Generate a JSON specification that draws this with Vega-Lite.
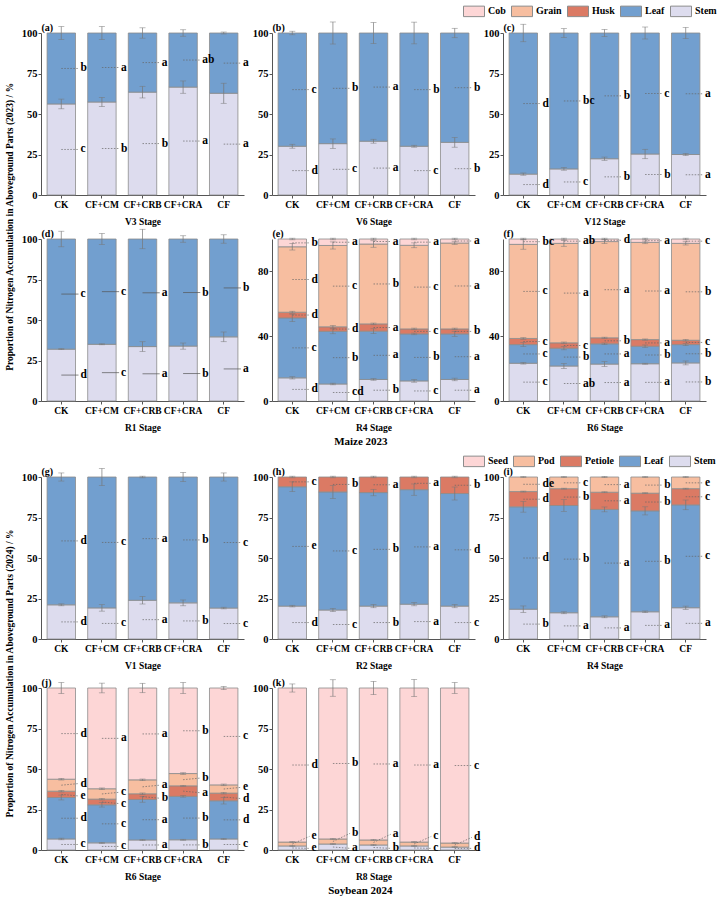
{
"$schema": "https://vega.github.io/schema/vega-lite/v6.json",
"background": "white",
"padding": {"left": 4, "top": 0, "right": 0, "bottom": 0},
"config": {
  "font": "Liberation Serif",
  "view": {"stroke": null},
  "axis": {"labelFont": "Liberation Serif", "labelFontWeight": "bold", "labelColor": "#000", "titleFont": "Liberation Serif", "titleFontWeight": "bold", "titleFontSize": 9.5, "titleColor": "#000", "domainColor": "#555", "tickColor": "#555", "tickSize": 3, "grid": false, "labelPadding": 1},
  "axisX": {"labelAngle": 0, "titlePadding": 8, "labelFontSize": 9.5},
  "axisY": {"labelFontSize": 10.5, "titleFontSize": 10, "titleAngle": 0, "titleAlign": "left", "titleBaseline": "alphabetic", "titleX": 0, "titleY": -3},
  "title": {"font": "Liberation Serif", "fontWeight": "bold", "color": "#000"},
  "legend": {"labelFont": "Liberation Serif", "labelFontWeight": "bold", "labelFontSize": 10, "labelColor": "#000"}
},
"datasets": {
  "maize": [
    {"panel": "a", "treatment": "CK", "part": "Stem", "value": 56.2, "sd": 3.0, "letter": "c"},
    {"panel": "a", "treatment": "CK", "part": "Leaf", "value": 43.8, "sd": 4.0, "letter": "b"},
    {"panel": "a", "treatment": "CF+CM", "part": "Stem", "value": 57.4, "sd": 2.8, "letter": "b"},
    {"panel": "a", "treatment": "CF+CM", "part": "Leaf", "value": 42.6, "sd": 4.0, "letter": "a"},
    {"panel": "a", "treatment": "CF+CRB", "part": "Stem", "value": 63.5, "sd": 3.6, "letter": "b"},
    {"panel": "a", "treatment": "CF+CRB", "part": "Leaf", "value": 36.5, "sd": 3.2, "letter": "a"},
    {"panel": "a", "treatment": "CF+CRA", "part": "Stem", "value": 66.6, "sd": 3.8, "letter": "a"},
    {"panel": "a", "treatment": "CF+CRA", "part": "Leaf", "value": 33.4, "sd": 2.0, "letter": "ab"},
    {"panel": "a", "treatment": "CF", "part": "Stem", "value": 62.8, "sd": 6.2, "letter": "a"},
    {"panel": "a", "treatment": "CF", "part": "Leaf", "value": 37.2, "sd": 0.6, "letter": "a"},

    {"panel": "b", "treatment": "CK", "part": "Stem", "value": 30.1, "sd": 1.2, "letter": "d"},
    {"panel": "b", "treatment": "CK", "part": "Leaf", "value": 69.9, "sd": 1.1, "letter": "c"},
    {"panel": "b", "treatment": "CF+CM", "part": "Stem", "value": 31.7, "sd": 2.9, "letter": "c"},
    {"panel": "b", "treatment": "CF+CM", "part": "Leaf", "value": 68.3, "sd": 6.8, "letter": "b"},
    {"panel": "b", "treatment": "CF+CRB", "part": "Stem", "value": 33.2, "sd": 1.2, "letter": "a"},
    {"panel": "b", "treatment": "CF+CRB", "part": "Leaf", "value": 66.8, "sd": 6.5, "letter": "a"},
    {"panel": "b", "treatment": "CF+CRA", "part": "Stem", "value": 30.1, "sd": 0.6, "letter": "c"},
    {"panel": "b", "treatment": "CF+CRA", "part": "Leaf", "value": 69.9, "sd": 6.7, "letter": "b"},
    {"panel": "b", "treatment": "CF", "part": "Stem", "value": 32.5, "sd": 3.0, "letter": "b"},
    {"panel": "b", "treatment": "CF", "part": "Leaf", "value": 67.5, "sd": 2.9, "letter": "b"},

    {"panel": "c", "treatment": "CK", "part": "Stem", "value": 12.9, "sd": 0.7, "letter": "d"},
    {"panel": "c", "treatment": "CK", "part": "Leaf", "value": 87.1, "sd": 5.4, "letter": "d"},
    {"panel": "c", "treatment": "CF+CM", "part": "Stem", "value": 16.1, "sd": 0.8, "letter": "c"},
    {"panel": "c", "treatment": "CF+CM", "part": "Leaf", "value": 83.9, "sd": 2.7, "letter": "bc"},
    {"panel": "c", "treatment": "CF+CRB", "part": "Stem", "value": 22.4, "sd": 1.0, "letter": "b"},
    {"panel": "c", "treatment": "CF+CRB", "part": "Leaf", "value": 77.6, "sd": 2.2, "letter": "b"},
    {"panel": "c", "treatment": "CF+CRA", "part": "Stem", "value": 25.3, "sd": 2.9, "letter": "b"},
    {"panel": "c", "treatment": "CF+CRA", "part": "Leaf", "value": 74.7, "sd": 3.7, "letter": "c"},
    {"panel": "c", "treatment": "CF", "part": "Stem", "value": 25.0, "sd": 0.7, "letter": "a"},
    {"panel": "c", "treatment": "CF", "part": "Leaf", "value": 75.0, "sd": 3.5, "letter": "a"},

    {"panel": "d", "treatment": "CK", "part": "Stem", "value": 32.0, "sd": 0.3, "letter": "d"},
    {"panel": "d", "treatment": "CK", "part": "Leaf", "value": 68.0, "sd": 4.8, "letter": "c"},
    {"panel": "d", "treatment": "CF+CM", "part": "Stem", "value": 35.0, "sd": 0.3, "letter": "c"},
    {"panel": "d", "treatment": "CF+CM", "part": "Leaf", "value": 65.0, "sd": 3.4, "letter": "c"},
    {"panel": "d", "treatment": "CF+CRB", "part": "Stem", "value": 33.6, "sd": 3.0, "letter": "a"},
    {"panel": "d", "treatment": "CF+CRB", "part": "Leaf", "value": 66.4, "sd": 6.0, "letter": "a"},
    {"panel": "d", "treatment": "CF+CRA", "part": "Stem", "value": 33.9, "sd": 1.9, "letter": "b"},
    {"panel": "d", "treatment": "CF+CRA", "part": "Leaf", "value": 66.1, "sd": 2.0, "letter": "b"},
    {"panel": "d", "treatment": "CF", "part": "Stem", "value": 39.6, "sd": 3.0, "letter": "a"},
    {"panel": "d", "treatment": "CF", "part": "Leaf", "value": 60.4, "sd": 2.6, "letter": "b"},

    {"panel": "e", "treatment": "CK", "part": "Stem", "value": 14.3, "sd": 0.7, "letter": "d"},
    {"panel": "e", "treatment": "CK", "part": "Leaf", "value": 37.0, "sd": 2.3, "letter": "c"},
    {"panel": "e", "treatment": "CK", "part": "Husk", "value": 3.5, "sd": 0.6, "letter": "d"},
    {"panel": "e", "treatment": "CK", "part": "Grain", "value": 40.4, "sd": 2.0, "letter": "d"},
    {"panel": "e", "treatment": "CK", "part": "Cob", "value": 4.8, "sd": 0.5, "letter": "b"},
    {"panel": "e", "treatment": "CF+CM", "part": "Stem", "value": 10.5, "sd": 0.5, "letter": "cd"},
    {"panel": "e", "treatment": "CF+CM", "part": "Leaf", "value": 32.5, "sd": 1.5, "letter": "b"},
    {"panel": "e", "treatment": "CF+CM", "part": "Husk", "value": 2.8, "sd": 0.8, "letter": "d"},
    {"panel": "e", "treatment": "CF+CM", "part": "Grain", "value": 50.2, "sd": 2.2, "letter": "c"},
    {"panel": "e", "treatment": "CF+CM", "part": "Cob", "value": 4.0, "sd": 0.5, "letter": "a"},
    {"panel": "e", "treatment": "CF+CRB", "part": "Stem", "value": 13.3, "sd": 0.5, "letter": "b"},
    {"panel": "e", "treatment": "CF+CRB", "part": "Leaf", "value": 29.8, "sd": 1.5, "letter": "a"},
    {"panel": "e", "treatment": "CF+CRB", "part": "Husk", "value": 4.5, "sd": 0.5, "letter": "a"},
    {"panel": "e", "treatment": "CF+CRB", "part": "Grain", "value": 49.3, "sd": 2.0, "letter": "b"},
    {"panel": "e", "treatment": "CF+CRB", "part": "Cob", "value": 3.1, "sd": 0.5, "letter": "a"},
    {"panel": "e", "treatment": "CF+CRA", "part": "Stem", "value": 12.4, "sd": 0.8, "letter": "c"},
    {"panel": "e", "treatment": "CF+CRA", "part": "Leaf", "value": 29.0, "sd": 0.5, "letter": "b"},
    {"panel": "e", "treatment": "CF+CRA", "part": "Husk", "value": 3.1, "sd": 0.5, "letter": "c"},
    {"panel": "e", "treatment": "CF+CRA", "part": "Grain", "value": 51.6, "sd": 1.5, "letter": "c"},
    {"panel": "e", "treatment": "CF+CRA", "part": "Cob", "value": 3.9, "sd": 0.5, "letter": "a"},
    {"panel": "e", "treatment": "CF", "part": "Stem", "value": 13.3, "sd": 0.8, "letter": "a"},
    {"panel": "e", "treatment": "CF", "part": "Leaf", "value": 28.1, "sd": 1.5, "letter": "a"},
    {"panel": "e", "treatment": "CF", "part": "Husk", "value": 3.1, "sd": 0.5, "letter": "b"},
    {"panel": "e", "treatment": "CF", "part": "Grain", "value": 53.0, "sd": 0.8, "letter": "a"},
    {"panel": "e", "treatment": "CF", "part": "Cob", "value": 2.5, "sd": 0.5, "letter": "a"},

    {"panel": "f", "treatment": "CK", "part": "Stem", "value": 23.3, "sd": 0.5, "letter": "c"},
    {"panel": "f", "treatment": "CK", "part": "Leaf", "value": 11.5, "sd": 1.2, "letter": "c"},
    {"panel": "f", "treatment": "CK", "part": "Husk", "value": 3.8, "sd": 0.5, "letter": "c"},
    {"panel": "f", "treatment": "CK", "part": "Grain", "value": 58.1, "sd": 3.0, "letter": "c"},
    {"panel": "f", "treatment": "CK", "part": "Cob", "value": 3.3, "sd": 0.5, "letter": "bc"},
    {"panel": "f", "treatment": "CF+CM", "part": "Stem", "value": 21.6, "sd": 1.5, "letter": "ab"},
    {"panel": "f", "treatment": "CF+CM", "part": "Leaf", "value": 11.0, "sd": 1.0, "letter": "b"},
    {"panel": "f", "treatment": "CF+CM", "part": "Husk", "value": 3.3, "sd": 0.5, "letter": "c"},
    {"panel": "f", "treatment": "CF+CM", "part": "Grain", "value": 61.4, "sd": 1.8, "letter": "a"},
    {"panel": "f", "treatment": "CF+CM", "part": "Cob", "value": 2.7, "sd": 0.5, "letter": "ab"},
    {"panel": "f", "treatment": "CF+CRB", "part": "Stem", "value": 22.8, "sd": 1.5, "letter": "a"},
    {"panel": "f", "treatment": "CF+CRB", "part": "Leaf", "value": 12.5, "sd": 0.5, "letter": "a"},
    {"panel": "f", "treatment": "CF+CRB", "part": "Husk", "value": 3.7, "sd": 0.4, "letter": "b"},
    {"panel": "f", "treatment": "CF+CRB", "part": "Grain", "value": 59.4, "sd": 1.2, "letter": "a"},
    {"panel": "f", "treatment": "CF+CRB", "part": "Cob", "value": 1.6, "sd": 0.5, "letter": "d"},
    {"panel": "f", "treatment": "CF+CRA", "part": "Stem", "value": 23.0, "sd": 0.3, "letter": "a"},
    {"panel": "f", "treatment": "CF+CRA", "part": "Leaf", "value": 10.8, "sd": 0.8, "letter": "b"},
    {"panel": "f", "treatment": "CF+CRA", "part": "Husk", "value": 4.1, "sd": 0.4, "letter": "a"},
    {"panel": "f", "treatment": "CF+CRA", "part": "Grain", "value": 60.0, "sd": 0.8, "letter": "a"},
    {"panel": "f", "treatment": "CF+CRA", "part": "Cob", "value": 2.1, "sd": 0.5, "letter": "a"},
    {"panel": "f", "treatment": "CF", "part": "Stem", "value": 23.5, "sd": 1.2, "letter": "b"},
    {"panel": "f", "treatment": "CF", "part": "Leaf", "value": 11.3, "sd": 0.6, "letter": "b"},
    {"panel": "f", "treatment": "CF", "part": "Husk", "value": 2.7, "sd": 0.5, "letter": "c"},
    {"panel": "f", "treatment": "CF", "part": "Grain", "value": 59.8, "sd": 1.0, "letter": "b"},
    {"panel": "f", "treatment": "CF", "part": "Cob", "value": 2.7, "sd": 0.5, "letter": "c"}
  ],
  "soy": [
    {"panel": "g", "treatment": "CK", "part": "Stem", "value": 21.1, "sd": 0.6, "letter": "d"},
    {"panel": "g", "treatment": "CK", "part": "Leaf", "value": 78.9, "sd": 2.5, "letter": "d"},
    {"panel": "g", "treatment": "CF+CM", "part": "Stem", "value": 19.2, "sd": 2.0, "letter": "c"},
    {"panel": "g", "treatment": "CF+CM", "part": "Leaf", "value": 80.8, "sd": 5.3, "letter": "c"},
    {"panel": "g", "treatment": "CF+CRB", "part": "Stem", "value": 23.9, "sd": 2.3, "letter": "a"},
    {"panel": "g", "treatment": "CF+CRB", "part": "Leaf", "value": 76.1, "sd": 0.5, "letter": "a"},
    {"panel": "g", "treatment": "CF+CRA", "part": "Stem", "value": 22.3, "sd": 1.8, "letter": "b"},
    {"panel": "g", "treatment": "CF+CRA", "part": "Leaf", "value": 77.7, "sd": 2.8, "letter": "b"},
    {"panel": "g", "treatment": "CF", "part": "Stem", "value": 19.1, "sd": 0.5, "letter": "c"},
    {"panel": "g", "treatment": "CF", "part": "Leaf", "value": 80.9, "sd": 2.5, "letter": "c"},

    {"panel": "h", "treatment": "CK", "part": "Stem", "value": 20.3, "sd": 0.5, "letter": "d"},
    {"panel": "h", "treatment": "CK", "part": "Leaf", "value": 73.7, "sd": 3.0, "letter": "e"},
    {"panel": "h", "treatment": "CK", "part": "Petiole", "value": 6.0, "sd": 0.5, "letter": "c"},
    {"panel": "h", "treatment": "CF+CM", "part": "Stem", "value": 17.9, "sd": 1.0, "letter": "c"},
    {"panel": "h", "treatment": "CF+CM", "part": "Leaf", "value": 72.9, "sd": 4.0, "letter": "c"},
    {"panel": "h", "treatment": "CF+CM", "part": "Petiole", "value": 9.2, "sd": 0.5, "letter": "b"},
    {"panel": "h", "treatment": "CF+CRB", "part": "Stem", "value": 20.3, "sd": 1.0, "letter": "b"},
    {"panel": "h", "treatment": "CF+CRB", "part": "Leaf", "value": 70.1, "sd": 2.0, "letter": "b"},
    {"panel": "h", "treatment": "CF+CRB", "part": "Petiole", "value": 9.6, "sd": 0.5, "letter": "a"},
    {"panel": "h", "treatment": "CF+CRA", "part": "Stem", "value": 21.5, "sd": 1.0, "letter": "a"},
    {"panel": "h", "treatment": "CF+CRA", "part": "Leaf", "value": 70.7, "sd": 3.5, "letter": "a"},
    {"panel": "h", "treatment": "CF+CRA", "part": "Petiole", "value": 7.8, "sd": 0.5, "letter": "a"},
    {"panel": "h", "treatment": "CF", "part": "Stem", "value": 20.3, "sd": 1.0, "letter": "c"},
    {"panel": "h", "treatment": "CF", "part": "Leaf", "value": 69.5, "sd": 4.0, "letter": "d"},
    {"panel": "h", "treatment": "CF", "part": "Petiole", "value": 10.2, "sd": 0.5, "letter": "b"},

    {"panel": "i", "treatment": "CK", "part": "Stem", "value": 18.4, "sd": 2.0, "letter": "b"},
    {"panel": "i", "treatment": "CK", "part": "Leaf", "value": 63.2, "sd": 3.3, "letter": "d"},
    {"panel": "i", "treatment": "CK", "part": "Petiole", "value": 9.4, "sd": 0.3, "letter": "d"},
    {"panel": "i", "treatment": "CK", "part": "Pod", "value": 9.0, "sd": 0.3, "letter": "de"},
    {"panel": "i", "treatment": "CF+CM", "part": "Stem", "value": 16.2, "sd": 0.6, "letter": "a"},
    {"panel": "i", "treatment": "CF+CM", "part": "Leaf", "value": 66.2, "sd": 3.6, "letter": "b"},
    {"panel": "i", "treatment": "CF+CM", "part": "Petiole", "value": 10.4, "sd": 0.3, "letter": "b"},
    {"panel": "i", "treatment": "CF+CM", "part": "Pod", "value": 7.2, "sd": 0.3, "letter": "c"},
    {"panel": "i", "treatment": "CF+CRB", "part": "Stem", "value": 13.7, "sd": 0.6, "letter": "a"},
    {"panel": "i", "treatment": "CF+CRB", "part": "Leaf", "value": 66.3, "sd": 1.5, "letter": "a"},
    {"panel": "i", "treatment": "CF+CRB", "part": "Petiole", "value": 10.6, "sd": 0.3, "letter": "a"},
    {"panel": "i", "treatment": "CF+CRB", "part": "Pod", "value": 9.4, "sd": 0.3, "letter": "a"},
    {"panel": "i", "treatment": "CF+CRA", "part": "Stem", "value": 16.8, "sd": 0.5, "letter": "a"},
    {"panel": "i", "treatment": "CF+CRA", "part": "Leaf", "value": 62.3, "sd": 2.5, "letter": "b"},
    {"panel": "i", "treatment": "CF+CRA", "part": "Petiole", "value": 10.9, "sd": 0.3, "letter": "b"},
    {"panel": "i", "treatment": "CF+CRA", "part": "Pod", "value": 10.0, "sd": 0.3, "letter": "b"},
    {"panel": "i", "treatment": "CF", "part": "Stem", "value": 19.3, "sd": 1.0, "letter": "a"},
    {"panel": "i", "treatment": "CF", "part": "Leaf", "value": 63.5, "sd": 3.0, "letter": "c"},
    {"panel": "i", "treatment": "CF", "part": "Petiole", "value": 10.0, "sd": 0.3, "letter": "c"},
    {"panel": "i", "treatment": "CF", "part": "Pod", "value": 7.2, "sd": 0.3, "letter": "e"},

    {"panel": "j", "treatment": "CK", "part": "Stem", "value": 6.8, "sd": 0.5, "letter": "c"},
    {"panel": "j", "treatment": "CK", "part": "Leaf", "value": 25.6, "sd": 1.5, "letter": "d"},
    {"panel": "j", "treatment": "CK", "part": "Petiole", "value": 3.9, "sd": 0.5, "letter": "e"},
    {"panel": "j", "treatment": "CK", "part": "Pod", "value": 7.4, "sd": 0.5, "letter": "d"},
    {"panel": "j", "treatment": "CK", "part": "Seed", "value": 56.3, "sd": 3.4, "letter": "d"},
    {"panel": "j", "treatment": "CF+CM", "part": "Stem", "value": 4.4, "sd": 0.3, "letter": "c"},
    {"panel": "j", "treatment": "CF+CM", "part": "Leaf", "value": 23.5, "sd": 1.4, "letter": "c"},
    {"panel": "j", "treatment": "CF+CM", "part": "Petiole", "value": 3.5, "sd": 0.5, "letter": "c"},
    {"panel": "j", "treatment": "CF+CM", "part": "Pod", "value": 6.4, "sd": 0.5, "letter": "c"},
    {"panel": "j", "treatment": "CF+CM", "part": "Seed", "value": 62.2, "sd": 3.0, "letter": "a"},
    {"panel": "j", "treatment": "CF+CRB", "part": "Stem", "value": 6.2, "sd": 0.3, "letter": "a"},
    {"panel": "j", "treatment": "CF+CRB", "part": "Leaf", "value": 25.0, "sd": 1.7, "letter": "a"},
    {"panel": "j", "treatment": "CF+CRB", "part": "Petiole", "value": 3.5, "sd": 0.5, "letter": "b"},
    {"panel": "j", "treatment": "CF+CRB", "part": "Pod", "value": 8.6, "sd": 0.5, "letter": "a"},
    {"panel": "j", "treatment": "CF+CRB", "part": "Seed", "value": 56.7, "sd": 2.9, "letter": "a"},
    {"panel": "j", "treatment": "CF+CRA", "part": "Stem", "value": 6.3, "sd": 0.3, "letter": "b"},
    {"panel": "j", "treatment": "CF+CRA", "part": "Leaf", "value": 26.8, "sd": 0.5, "letter": "b"},
    {"panel": "j", "treatment": "CF+CRA", "part": "Petiole", "value": 6.5, "sd": 0.3, "letter": "a"},
    {"panel": "j", "treatment": "CF+CRA", "part": "Pod", "value": 7.6, "sd": 0.5, "letter": "b"},
    {"panel": "j", "treatment": "CF+CRA", "part": "Seed", "value": 52.8, "sd": 3.4, "letter": "b"},
    {"panel": "j", "treatment": "CF", "part": "Stem", "value": 6.8, "sd": 0.3, "letter": "c"},
    {"panel": "j", "treatment": "CF", "part": "Leaf", "value": 23.6, "sd": 2.0, "letter": "d"},
    {"panel": "j", "treatment": "CF", "part": "Petiole", "value": 4.7, "sd": 0.5, "letter": "d"},
    {"panel": "j", "treatment": "CF", "part": "Pod", "value": 5.1, "sd": 0.5, "letter": "e"},
    {"panel": "j", "treatment": "CF", "part": "Seed", "value": 59.8, "sd": 1.0, "letter": "c"},

    {"panel": "k", "treatment": "CK", "part": "Stem", "value": 2.5, "sd": 0.3, "letter": "e"},
    {"panel": "k", "treatment": "CK", "part": "Pod", "value": 2.4, "sd": 0.3, "letter": "e"},
    {"panel": "k", "treatment": "CK", "part": "Seed", "value": 95.1, "sd": 2.5, "letter": "d"},
    {"panel": "k", "treatment": "CF+CM", "part": "Stem", "value": 3.7, "sd": 0.3, "letter": "a"},
    {"panel": "k", "treatment": "CF+CM", "part": "Pod", "value": 3.1, "sd": 0.3, "letter": "b"},
    {"panel": "k", "treatment": "CF+CM", "part": "Seed", "value": 93.2, "sd": 5.1, "letter": "b"},
    {"panel": "k", "treatment": "CF+CRB", "part": "Stem", "value": 3.1, "sd": 0.3, "letter": "b"},
    {"panel": "k", "treatment": "CF+CRB", "part": "Pod", "value": 3.1, "sd": 0.3, "letter": "a"},
    {"panel": "k", "treatment": "CF+CRB", "part": "Seed", "value": 93.8, "sd": 4.1, "letter": "a"},
    {"panel": "k", "treatment": "CF+CRA", "part": "Stem", "value": 2.5, "sd": 0.3, "letter": "c"},
    {"panel": "k", "treatment": "CF+CRA", "part": "Pod", "value": 2.4, "sd": 0.3, "letter": "c"},
    {"panel": "k", "treatment": "CF+CRA", "part": "Seed", "value": 95.1, "sd": 5.3, "letter": "a"},
    {"panel": "k", "treatment": "CF", "part": "Stem", "value": 1.8, "sd": 0.3, "letter": "d"},
    {"panel": "k", "treatment": "CF", "part": "Pod", "value": 2.5, "sd": 0.3, "letter": "d"},
    {"panel": "k", "treatment": "CF", "part": "Seed", "value": 95.7, "sd": 3.4, "letter": "c"}
  ]
},
"spacing": 3,
"resolve": {"scale": {"color": "independent"}},
"vconcat": [
 {
  "title": {"text": "Maize 2023", "orient": "bottom", "anchor": "middle", "fontSize": 11, "offset": 4},
  "resolve": {"scale": {"color": "shared"}},
  "vconcat": [
   {
    "title": {"text": "Proportion of Nitrogen Accumulation in Aboveground Parts (2023) / %", "orient": "left", "anchor": "middle", "fontSize": 9.5, "offset": 7},
    "spacing": 2,
    "resolve": {"scale": {"color": "shared"}},
    "vconcat": [
     {
      "bounds": "flush", "spacing": 28,
      "resolve": {"scale": {"color": "shared"}},
      "hconcat": [
       {"width": 203, "height": 162,
        "data": {"name": "maize"},
        "transform": [{"filter": "datum.panel == 'a'"}, {"calculate": "indexof(['Stem','Leaf','Husk','Petiole','Grain','Pod','Cob','Seed'], datum.part)", "as": "ord"}, {"stack": "value", "groupby": ["treatment"], "sort": [{"field": "ord", "order": "ascending"}], "as": ["y0", "y1"]}, {"calculate": "(datum.y0 + datum.y1) / 2", "as": "mid"}, {"calculate": "datum.y1 - datum.sd", "as": "lo"}, {"calculate": "datum.y1 + datum.sd", "as": "hi"}, {"calculate": "datum.mid", "as": "ly"}],
        "encoding": {"x": {"field": "treatment", "type": "nominal", "sort": ["CK", "CF+CM", "CF+CRB", "CF+CRA", "CF"], "scale": {"paddingInner": 0.3, "paddingOuter": 0.15}, "axis": {"title": "V3 Stage"}}},
        "layer": [
         {"mark": {"type": "bar", "stroke": "#8c8c8c", "strokeWidth": 0.8}, "encoding": {"y": {"field": "y0", "type": "quantitative", "title": "(a)", "scale": {"domain": [0, 100], "nice": false}, "axis": {"values": [0, 25, 50, 75, 100], "title": "(a)"}}, "y2": {"field": "y1"}, "color": {"field": "part", "type": "nominal", "scale": {"domain": ["Cob", "Grain", "Husk", "Leaf", "Stem"], "range": ["#FDD6D6", "#F7BEA0", "#DB7A64", "#729FCF", "#DDDCEE"]}, "legend": {"orient": "none", "legendX": 422, "legendY": -33, "direction": "horizontal", "title": null, "symbolType": "M-1,-0.5H1V0.5H-1Z", "symbolSize": 441, "symbolStrokeColor": "#9a9a9a", "symbolStrokeWidth": 1, "symbolOpacity": 1, "labelOffset": 3, "columnPadding": 3}}}},
         {"mark": {"type": "rule", "color": "#777777", "strokeWidth": 0.7}, "encoding": {"y": {"field": "lo", "type": "quantitative", "title": "(a)"}, "y2": {"field": "hi"}}},
         {"mark": {"type": "tick", "color": "#777777", "thickness": 0.7, "size": 6}, "encoding": {"y": {"field": "lo", "type": "quantitative", "title": "(a)"}}},
         {"mark": {"type": "tick", "color": "#777777", "thickness": 0.7, "size": 6}, "encoding": {"y": {"field": "hi", "type": "quantitative", "title": "(a)"}}},
         {"mark": {"type": "rule", "color": "#666666", "strokeWidth": 0.7, "strokeDash": [1.5, 1.5], "x2Offset": 3}, "encoding": {"x": {"field": "treatment", "type": "nominal", "sort": ["CK", "CF+CM", "CF+CRB", "CF+CRA", "CF"], "bandPosition": 0.5}, "x2": {"field": "treatment", "bandPosition": 1}, "y": {"field": "mid", "type": "quantitative", "title": "(a)"}, "y2": {"field": "ly"}}},
         {"mark": {"type": "text", "align": "left", "baseline": "middle", "dx": 5, "fontSize": 11.5, "fontWeight": "bold"}, "encoding": {"x": {"field": "treatment", "type": "nominal", "sort": ["CK", "CF+CM", "CF+CRB", "CF+CRA", "CF"], "bandPosition": 1}, "y": {"field": "ly", "type": "quantitative", "title": "(a)"}, "text": {"field": "letter"}}}
        ]
       },
       {"width": 203, "height": 162,
        "data": {"name": "maize"},
        "transform": [{"filter": "datum.panel == 'b'"}, {"calculate": "indexof(['Stem','Leaf','Husk','Petiole','Grain','Pod','Cob','Seed'], datum.part)", "as": "ord"}, {"stack": "value", "groupby": ["treatment"], "sort": [{"field": "ord", "order": "ascending"}], "as": ["y0", "y1"]}, {"calculate": "(datum.y0 + datum.y1) / 2", "as": "mid"}, {"calculate": "datum.y1 - datum.sd", "as": "lo"}, {"calculate": "datum.y1 + datum.sd", "as": "hi"}, {"calculate": "datum.mid", "as": "ly"}],
        "encoding": {"x": {"field": "treatment", "type": "nominal", "sort": ["CK", "CF+CM", "CF+CRB", "CF+CRA", "CF"], "scale": {"paddingInner": 0.3, "paddingOuter": 0.15}, "axis": {"title": "V6 Stage"}}},
        "layer": [
         {"mark": {"type": "bar", "stroke": "#8c8c8c", "strokeWidth": 0.8}, "encoding": {"y": {"field": "y0", "type": "quantitative", "title": "(b)", "scale": {"domain": [0, 100], "nice": false}, "axis": {"values": [0, 25, 50, 75, 100], "title": "(b)"}}, "y2": {"field": "y1"}, "color": {"field": "part", "type": "nominal", "scale": {"domain": ["Cob", "Grain", "Husk", "Leaf", "Stem"], "range": ["#FDD6D6", "#F7BEA0", "#DB7A64", "#729FCF", "#DDDCEE"]}}}},
         {"mark": {"type": "rule", "color": "#777777", "strokeWidth": 0.7}, "encoding": {"y": {"field": "lo", "type": "quantitative", "title": "(b)"}, "y2": {"field": "hi"}}},
         {"mark": {"type": "tick", "color": "#777777", "thickness": 0.7, "size": 6}, "encoding": {"y": {"field": "lo", "type": "quantitative", "title": "(b)"}}},
         {"mark": {"type": "tick", "color": "#777777", "thickness": 0.7, "size": 6}, "encoding": {"y": {"field": "hi", "type": "quantitative", "title": "(b)"}}},
         {"mark": {"type": "rule", "color": "#666666", "strokeWidth": 0.7, "strokeDash": [1.5, 1.5], "x2Offset": 3}, "encoding": {"x": {"field": "treatment", "type": "nominal", "sort": ["CK", "CF+CM", "CF+CRB", "CF+CRA", "CF"], "bandPosition": 0.5}, "x2": {"field": "treatment", "bandPosition": 1}, "y": {"field": "mid", "type": "quantitative", "title": "(b)"}, "y2": {"field": "ly"}}},
         {"mark": {"type": "text", "align": "left", "baseline": "middle", "dx": 5, "fontSize": 11.5, "fontWeight": "bold"}, "encoding": {"x": {"field": "treatment", "type": "nominal", "sort": ["CK", "CF+CM", "CF+CRB", "CF+CRA", "CF"], "bandPosition": 1}, "y": {"field": "ly", "type": "quantitative", "title": "(b)"}, "text": {"field": "letter"}}}
        ]
       },
       {"width": 203, "height": 162,
        "data": {"name": "maize"},
        "transform": [{"filter": "datum.panel == 'c'"}, {"calculate": "indexof(['Stem','Leaf','Husk','Petiole','Grain','Pod','Cob','Seed'], datum.part)", "as": "ord"}, {"stack": "value", "groupby": ["treatment"], "sort": [{"field": "ord", "order": "ascending"}], "as": ["y0", "y1"]}, {"calculate": "(datum.y0 + datum.y1) / 2", "as": "mid"}, {"calculate": "datum.y1 - datum.sd", "as": "lo"}, {"calculate": "datum.y1 + datum.sd", "as": "hi"}, {"calculate": "datum.mid", "as": "ly"}],
        "encoding": {"x": {"field": "treatment", "type": "nominal", "sort": ["CK", "CF+CM", "CF+CRB", "CF+CRA", "CF"], "scale": {"paddingInner": 0.3, "paddingOuter": 0.15}, "axis": {"title": "V12 Stage"}}},
        "layer": [
         {"mark": {"type": "bar", "stroke": "#8c8c8c", "strokeWidth": 0.8}, "encoding": {"y": {"field": "y0", "type": "quantitative", "title": "(c)", "scale": {"domain": [0, 100], "nice": false}, "axis": {"values": [0, 25, 50, 75, 100], "title": "(c)"}}, "y2": {"field": "y1"}, "color": {"field": "part", "type": "nominal", "scale": {"domain": ["Cob", "Grain", "Husk", "Leaf", "Stem"], "range": ["#FDD6D6", "#F7BEA0", "#DB7A64", "#729FCF", "#DDDCEE"]}}}},
         {"mark": {"type": "rule", "color": "#777777", "strokeWidth": 0.7}, "encoding": {"y": {"field": "lo", "type": "quantitative", "title": "(c)"}, "y2": {"field": "hi"}}},
         {"mark": {"type": "tick", "color": "#777777", "thickness": 0.7, "size": 6}, "encoding": {"y": {"field": "lo", "type": "quantitative", "title": "(c)"}}},
         {"mark": {"type": "tick", "color": "#777777", "thickness": 0.7, "size": 6}, "encoding": {"y": {"field": "hi", "type": "quantitative", "title": "(c)"}}},
         {"mark": {"type": "rule", "color": "#666666", "strokeWidth": 0.7, "strokeDash": [1.5, 1.5], "x2Offset": 3}, "encoding": {"x": {"field": "treatment", "type": "nominal", "sort": ["CK", "CF+CM", "CF+CRB", "CF+CRA", "CF"], "bandPosition": 0.5}, "x2": {"field": "treatment", "bandPosition": 1}, "y": {"field": "mid", "type": "quantitative", "title": "(c)"}, "y2": {"field": "ly"}}},
         {"mark": {"type": "text", "align": "left", "baseline": "middle", "dx": 5, "fontSize": 11.5, "fontWeight": "bold"}, "encoding": {"x": {"field": "treatment", "type": "nominal", "sort": ["CK", "CF+CM", "CF+CRB", "CF+CRA", "CF"], "bandPosition": 1}, "y": {"field": "ly", "type": "quantitative", "title": "(c)"}, "text": {"field": "letter"}}}
        ]
       }
      ]
     },
     {
      "bounds": "flush", "spacing": 28,
      "resolve": {"scale": {"color": "shared"}},
      "hconcat": [
       {"width": 203, "height": 162,
        "data": {"name": "maize"},
        "transform": [{"filter": "datum.panel == 'd'"}, {"calculate": "indexof(['Stem','Leaf','Husk','Petiole','Grain','Pod','Cob','Seed'], datum.part)", "as": "ord"}, {"stack": "value", "groupby": ["treatment"], "sort": [{"field": "ord", "order": "ascending"}], "as": ["y0", "y1"]}, {"calculate": "(datum.y0 + datum.y1) / 2", "as": "mid"}, {"calculate": "datum.y1 - datum.sd", "as": "lo"}, {"calculate": "datum.y1 + datum.sd", "as": "hi"}, {"calculate": "datum.mid", "as": "ly"}],
        "encoding": {"x": {"field": "treatment", "type": "nominal", "sort": ["CK", "CF+CM", "CF+CRB", "CF+CRA", "CF"], "scale": {"paddingInner": 0.3, "paddingOuter": 0.15}, "axis": {"title": "R1 Stage"}}},
        "layer": [
         {"mark": {"type": "bar", "stroke": "#8c8c8c", "strokeWidth": 0.8}, "encoding": {"y": {"field": "y0", "type": "quantitative", "title": "(d)", "scale": {"domain": [0, 100], "nice": false}, "axis": {"values": [0, 25, 50, 75, 100], "title": "(d)"}}, "y2": {"field": "y1"}, "color": {"field": "part", "type": "nominal", "scale": {"domain": ["Cob", "Grain", "Husk", "Leaf", "Stem"], "range": ["#FDD6D6", "#F7BEA0", "#DB7A64", "#729FCF", "#DDDCEE"]}}}},
         {"mark": {"type": "rule", "color": "#777777", "strokeWidth": 0.7}, "encoding": {"y": {"field": "lo", "type": "quantitative", "title": "(d)"}, "y2": {"field": "hi"}}},
         {"mark": {"type": "tick", "color": "#777777", "thickness": 0.7, "size": 6}, "encoding": {"y": {"field": "lo", "type": "quantitative", "title": "(d)"}}},
         {"mark": {"type": "tick", "color": "#777777", "thickness": 0.7, "size": 6}, "encoding": {"y": {"field": "hi", "type": "quantitative", "title": "(d)"}}},
         {"mark": {"type": "rule", "color": "#555555", "strokeWidth": 0.7, "x2Offset": 3}, "encoding": {"x": {"field": "treatment", "type": "nominal", "sort": ["CK", "CF+CM", "CF+CRB", "CF+CRA", "CF"], "bandPosition": 0.5}, "x2": {"field": "treatment", "bandPosition": 1}, "y": {"field": "mid", "type": "quantitative", "title": "(d)"}, "y2": {"field": "ly"}}},
         {"mark": {"type": "text", "align": "left", "baseline": "middle", "dx": 5, "fontSize": 11.5, "fontWeight": "bold"}, "encoding": {"x": {"field": "treatment", "type": "nominal", "sort": ["CK", "CF+CM", "CF+CRB", "CF+CRA", "CF"], "bandPosition": 1}, "y": {"field": "ly", "type": "quantitative", "title": "(d)"}, "text": {"field": "letter"}}}
        ]
       },
       {"width": 203, "height": 162,
        "data": {"name": "maize"},
        "transform": [{"filter": "datum.panel == 'e'"}, {"calculate": "indexof(['Stem','Leaf','Husk','Petiole','Grain','Pod','Cob','Seed'], datum.part)", "as": "ord"}, {"stack": "value", "groupby": ["treatment"], "sort": [{"field": "ord", "order": "ascending"}], "as": ["y0", "y1"]}, {"calculate": "(datum.y0 + datum.y1) / 2", "as": "mid"}, {"calculate": "datum.y1 - datum.sd", "as": "lo"}, {"calculate": "datum.y1 + datum.sd", "as": "hi"}, {"calculate": "datum.mid", "as": "ly"}],
        "encoding": {"x": {"field": "treatment", "type": "nominal", "sort": ["CK", "CF+CM", "CF+CRB", "CF+CRA", "CF"], "scale": {"paddingInner": 0.3, "paddingOuter": 0.15}, "axis": {"title": "R4 Stage"}}},
        "layer": [
         {"mark": {"type": "bar", "stroke": "#8c8c8c", "strokeWidth": 0.8}, "encoding": {"y": {"field": "y0", "type": "quantitative", "title": "(e)", "scale": {"domain": [0, 100], "nice": false}, "axis": {"values": [0, 20, 40, 60, 80, 100], "title": "(e)"}}, "y2": {"field": "y1"}, "color": {"field": "part", "type": "nominal", "scale": {"domain": ["Cob", "Grain", "Husk", "Leaf", "Stem"], "range": ["#FDD6D6", "#F7BEA0", "#DB7A64", "#729FCF", "#DDDCEE"]}}}},
         {"mark": {"type": "rule", "color": "#777777", "strokeWidth": 0.7}, "encoding": {"y": {"field": "lo", "type": "quantitative", "title": "(e)"}, "y2": {"field": "hi"}}},
         {"mark": {"type": "tick", "color": "#777777", "thickness": 0.7, "size": 6}, "encoding": {"y": {"field": "lo", "type": "quantitative", "title": "(e)"}}},
         {"mark": {"type": "tick", "color": "#777777", "thickness": 0.7, "size": 6}, "encoding": {"y": {"field": "hi", "type": "quantitative", "title": "(e)"}}},
         {"mark": {"type": "rule", "color": "#666666", "strokeWidth": 0.7, "strokeDash": [1.5, 1.5], "x2Offset": 3}, "encoding": {"x": {"field": "treatment", "type": "nominal", "sort": ["CK", "CF+CM", "CF+CRB", "CF+CRA", "CF"], "bandPosition": 0.5}, "x2": {"field": "treatment", "bandPosition": 1}, "y": {"field": "mid", "type": "quantitative", "title": "(e)"}, "y2": {"field": "ly"}}},
         {"mark": {"type": "text", "align": "left", "baseline": "middle", "dx": 5, "fontSize": 11.5, "fontWeight": "bold"}, "encoding": {"x": {"field": "treatment", "type": "nominal", "sort": ["CK", "CF+CM", "CF+CRB", "CF+CRA", "CF"], "bandPosition": 1}, "y": {"field": "ly", "type": "quantitative", "title": "(e)"}, "text": {"field": "letter"}}}
        ]
       },
       {"width": 203, "height": 162,
        "data": {"name": "maize"},
        "transform": [{"filter": "datum.panel == 'f'"}, {"calculate": "indexof(['Stem','Leaf','Husk','Petiole','Grain','Pod','Cob','Seed'], datum.part)", "as": "ord"}, {"stack": "value", "groupby": ["treatment"], "sort": [{"field": "ord", "order": "ascending"}], "as": ["y0", "y1"]}, {"calculate": "(datum.y0 + datum.y1) / 2", "as": "mid"}, {"calculate": "datum.y1 - datum.sd", "as": "lo"}, {"calculate": "datum.y1 + datum.sd", "as": "hi"}, {"calculate": "datum.mid", "as": "ly"}],
        "encoding": {"x": {"field": "treatment", "type": "nominal", "sort": ["CK", "CF+CM", "CF+CRB", "CF+CRA", "CF"], "scale": {"paddingInner": 0.3, "paddingOuter": 0.15}, "axis": {"title": "R6 Stage"}}},
        "layer": [
         {"mark": {"type": "bar", "stroke": "#8c8c8c", "strokeWidth": 0.8}, "encoding": {"y": {"field": "y0", "type": "quantitative", "title": "(f)", "scale": {"domain": [0, 100], "nice": false}, "axis": {"values": [0, 20, 40, 60, 80, 100], "title": "(f)"}}, "y2": {"field": "y1"}, "color": {"field": "part", "type": "nominal", "scale": {"domain": ["Cob", "Grain", "Husk", "Leaf", "Stem"], "range": ["#FDD6D6", "#F7BEA0", "#DB7A64", "#729FCF", "#DDDCEE"]}}}},
         {"mark": {"type": "rule", "color": "#777777", "strokeWidth": 0.7}, "encoding": {"y": {"field": "lo", "type": "quantitative", "title": "(f)"}, "y2": {"field": "hi"}}},
         {"mark": {"type": "tick", "color": "#777777", "thickness": 0.7, "size": 6}, "encoding": {"y": {"field": "lo", "type": "quantitative", "title": "(f)"}}},
         {"mark": {"type": "tick", "color": "#777777", "thickness": 0.7, "size": 6}, "encoding": {"y": {"field": "hi", "type": "quantitative", "title": "(f)"}}},
         {"mark": {"type": "rule", "color": "#666666", "strokeWidth": 0.7, "strokeDash": [1.5, 1.5], "x2Offset": 3}, "encoding": {"x": {"field": "treatment", "type": "nominal", "sort": ["CK", "CF+CM", "CF+CRB", "CF+CRA", "CF"], "bandPosition": 0.5}, "x2": {"field": "treatment", "bandPosition": 1}, "y": {"field": "mid", "type": "quantitative", "title": "(f)"}, "y2": {"field": "ly"}}},
         {"mark": {"type": "text", "align": "left", "baseline": "middle", "dx": 5, "fontSize": 11.5, "fontWeight": "bold"}, "encoding": {"x": {"field": "treatment", "type": "nominal", "sort": ["CK", "CF+CM", "CF+CRB", "CF+CRA", "CF"], "bandPosition": 1}, "y": {"field": "ly", "type": "quantitative", "title": "(f)"}, "text": {"field": "letter"}}}
        ]
       }
      ]
     }
    ]
   }
  ]
 },
 {
  "title": {"text": "Soybean 2024", "orient": "bottom", "anchor": "middle", "fontSize": 11, "offset": 4},
  "resolve": {"scale": {"color": "shared"}},
  "vconcat": [
   {
    "title": {"text": "Proportion of Nitrogen Accumulation in Aboveground Parts (2024) / %", "orient": "left", "anchor": "middle", "fontSize": 9.5, "offset": 7},
    "spacing": 7,
    "resolve": {"scale": {"color": "shared"}},
    "vconcat": [
     {
      "bounds": "flush", "spacing": 28,
      "resolve": {"scale": {"color": "shared"}},
      "hconcat": [
       {"width": 203, "height": 162,
        "data": {"name": "soy"},
        "transform": [{"filter": "datum.panel == 'g'"}, {"calculate": "indexof(['Stem','Leaf','Husk','Petiole','Grain','Pod','Cob','Seed'], datum.part)", "as": "ord"}, {"stack": "value", "groupby": ["treatment"], "sort": [{"field": "ord", "order": "ascending"}], "as": ["y0", "y1"]}, {"calculate": "(datum.y0 + datum.y1) / 2", "as": "mid"}, {"calculate": "datum.y1 - datum.sd", "as": "lo"}, {"calculate": "datum.y1 + datum.sd", "as": "hi"}, {"calculate": "datum.mid", "as": "ly"}],
        "encoding": {"x": {"field": "treatment", "type": "nominal", "sort": ["CK", "CF+CM", "CF+CRB", "CF+CRA", "CF"], "scale": {"paddingInner": 0.3, "paddingOuter": 0.15}, "axis": {"title": "V1 Stage"}}},
        "layer": [
         {"mark": {"type": "bar", "stroke": "#8c8c8c", "strokeWidth": 0.8}, "encoding": {"y": {"field": "y0", "type": "quantitative", "title": "(g)", "scale": {"domain": [0, 100], "nice": false}, "axis": {"values": [0, 25, 50, 75, 100], "title": "(g)"}}, "y2": {"field": "y1"}, "color": {"field": "part", "type": "nominal", "scale": {"domain": ["Seed", "Pod", "Petiole", "Leaf", "Stem"], "range": ["#FDD6D6", "#F7BEA0", "#DB7A64", "#729FCF", "#DDDCEE"]}, "legend": {"orient": "none", "legendX": 422, "legendY": -27, "direction": "horizontal", "title": null, "symbolType": "M-1,-0.5H1V0.5H-1Z", "symbolSize": 441, "symbolStrokeColor": "#9a9a9a", "symbolStrokeWidth": 1, "symbolOpacity": 1, "labelOffset": 3, "columnPadding": 3}}}},
         {"mark": {"type": "rule", "color": "#777777", "strokeWidth": 0.7}, "encoding": {"y": {"field": "lo", "type": "quantitative", "title": "(g)"}, "y2": {"field": "hi"}}},
         {"mark": {"type": "tick", "color": "#777777", "thickness": 0.7, "size": 6}, "encoding": {"y": {"field": "lo", "type": "quantitative", "title": "(g)"}}},
         {"mark": {"type": "tick", "color": "#777777", "thickness": 0.7, "size": 6}, "encoding": {"y": {"field": "hi", "type": "quantitative", "title": "(g)"}}},
         {"mark": {"type": "rule", "color": "#666666", "strokeWidth": 0.7, "strokeDash": [1.5, 1.5], "x2Offset": 3}, "encoding": {"x": {"field": "treatment", "type": "nominal", "sort": ["CK", "CF+CM", "CF+CRB", "CF+CRA", "CF"], "bandPosition": 0.5}, "x2": {"field": "treatment", "bandPosition": 1}, "y": {"field": "mid", "type": "quantitative", "title": "(g)"}, "y2": {"field": "ly"}}},
         {"mark": {"type": "text", "align": "left", "baseline": "middle", "dx": 5, "fontSize": 11.5, "fontWeight": "bold"}, "encoding": {"x": {"field": "treatment", "type": "nominal", "sort": ["CK", "CF+CM", "CF+CRB", "CF+CRA", "CF"], "bandPosition": 1}, "y": {"field": "ly", "type": "quantitative", "title": "(g)"}, "text": {"field": "letter"}}}
        ]
       },
       {"width": 203, "height": 162,
        "data": {"name": "soy"},
        "transform": [{"filter": "datum.panel == 'h'"}, {"calculate": "indexof(['Stem','Leaf','Husk','Petiole','Grain','Pod','Cob','Seed'], datum.part)", "as": "ord"}, {"stack": "value", "groupby": ["treatment"], "sort": [{"field": "ord", "order": "ascending"}], "as": ["y0", "y1"]}, {"calculate": "(datum.y0 + datum.y1) / 2", "as": "mid"}, {"calculate": "datum.y1 - datum.sd", "as": "lo"}, {"calculate": "datum.y1 + datum.sd", "as": "hi"}, {"calculate": "datum.mid", "as": "ly"}],
        "encoding": {"x": {"field": "treatment", "type": "nominal", "sort": ["CK", "CF+CM", "CF+CRB", "CF+CRA", "CF"], "scale": {"paddingInner": 0.3, "paddingOuter": 0.15}, "axis": {"title": "R2 Stage"}}},
        "layer": [
         {"mark": {"type": "bar", "stroke": "#8c8c8c", "strokeWidth": 0.8}, "encoding": {"y": {"field": "y0", "type": "quantitative", "title": "(h)", "scale": {"domain": [0, 100], "nice": false}, "axis": {"values": [0, 25, 50, 75, 100], "title": "(h)"}}, "y2": {"field": "y1"}, "color": {"field": "part", "type": "nominal", "scale": {"domain": ["Seed", "Pod", "Petiole", "Leaf", "Stem"], "range": ["#FDD6D6", "#F7BEA0", "#DB7A64", "#729FCF", "#DDDCEE"]}}}},
         {"mark": {"type": "rule", "color": "#777777", "strokeWidth": 0.7}, "encoding": {"y": {"field": "lo", "type": "quantitative", "title": "(h)"}, "y2": {"field": "hi"}}},
         {"mark": {"type": "tick", "color": "#777777", "thickness": 0.7, "size": 6}, "encoding": {"y": {"field": "lo", "type": "quantitative", "title": "(h)"}}},
         {"mark": {"type": "tick", "color": "#777777", "thickness": 0.7, "size": 6}, "encoding": {"y": {"field": "hi", "type": "quantitative", "title": "(h)"}}},
         {"mark": {"type": "rule", "color": "#666666", "strokeWidth": 0.7, "strokeDash": [1.5, 1.5], "x2Offset": 3}, "encoding": {"x": {"field": "treatment", "type": "nominal", "sort": ["CK", "CF+CM", "CF+CRB", "CF+CRA", "CF"], "bandPosition": 0.5}, "x2": {"field": "treatment", "bandPosition": 1}, "y": {"field": "mid", "type": "quantitative", "title": "(h)"}, "y2": {"field": "ly"}}},
         {"mark": {"type": "text", "align": "left", "baseline": "middle", "dx": 5, "fontSize": 11.5, "fontWeight": "bold"}, "encoding": {"x": {"field": "treatment", "type": "nominal", "sort": ["CK", "CF+CM", "CF+CRB", "CF+CRA", "CF"], "bandPosition": 1}, "y": {"field": "ly", "type": "quantitative", "title": "(h)"}, "text": {"field": "letter"}}}
        ]
       },
       {"width": 203, "height": 162,
        "data": {"name": "soy"},
        "transform": [{"filter": "datum.panel == 'i'"}, {"calculate": "indexof(['Stem','Leaf','Husk','Petiole','Grain','Pod','Cob','Seed'], datum.part)", "as": "ord"}, {"stack": "value", "groupby": ["treatment"], "sort": [{"field": "ord", "order": "ascending"}], "as": ["y0", "y1"]}, {"calculate": "(datum.y0 + datum.y1) / 2", "as": "mid"}, {"calculate": "datum.y1 - datum.sd", "as": "lo"}, {"calculate": "datum.y1 + datum.sd", "as": "hi"}, {"calculate": "datum.mid", "as": "ly"}],
        "encoding": {"x": {"field": "treatment", "type": "nominal", "sort": ["CK", "CF+CM", "CF+CRB", "CF+CRA", "CF"], "scale": {"paddingInner": 0.3, "paddingOuter": 0.15}, "axis": {"title": "R4 Stage"}}},
        "layer": [
         {"mark": {"type": "bar", "stroke": "#8c8c8c", "strokeWidth": 0.8}, "encoding": {"y": {"field": "y0", "type": "quantitative", "title": "(i)", "scale": {"domain": [0, 100], "nice": false}, "axis": {"values": [0, 25, 50, 75, 100], "title": "(i)"}}, "y2": {"field": "y1"}, "color": {"field": "part", "type": "nominal", "scale": {"domain": ["Seed", "Pod", "Petiole", "Leaf", "Stem"], "range": ["#FDD6D6", "#F7BEA0", "#DB7A64", "#729FCF", "#DDDCEE"]}}}},
         {"mark": {"type": "rule", "color": "#777777", "strokeWidth": 0.7}, "encoding": {"y": {"field": "lo", "type": "quantitative", "title": "(i)"}, "y2": {"field": "hi"}}},
         {"mark": {"type": "tick", "color": "#777777", "thickness": 0.7, "size": 6}, "encoding": {"y": {"field": "lo", "type": "quantitative", "title": "(i)"}}},
         {"mark": {"type": "tick", "color": "#777777", "thickness": 0.7, "size": 6}, "encoding": {"y": {"field": "hi", "type": "quantitative", "title": "(i)"}}},
         {"mark": {"type": "rule", "color": "#666666", "strokeWidth": 0.7, "strokeDash": [1.5, 1.5], "x2Offset": 3}, "encoding": {"x": {"field": "treatment", "type": "nominal", "sort": ["CK", "CF+CM", "CF+CRB", "CF+CRA", "CF"], "bandPosition": 0.5}, "x2": {"field": "treatment", "bandPosition": 1}, "y": {"field": "mid", "type": "quantitative", "title": "(i)"}, "y2": {"field": "ly"}}},
         {"mark": {"type": "text", "align": "left", "baseline": "middle", "dx": 5, "fontSize": 11.5, "fontWeight": "bold"}, "encoding": {"x": {"field": "treatment", "type": "nominal", "sort": ["CK", "CF+CM", "CF+CRB", "CF+CRA", "CF"], "bandPosition": 1}, "y": {"field": "ly", "type": "quantitative", "title": "(i)"}, "text": {"field": "letter"}}}
        ]
       }
      ]
     },
     {
      "bounds": "flush", "spacing": 28,
      "resolve": {"scale": {"color": "shared"}},
      "hconcat": [
       {"width": 203, "height": 162,
        "data": {"name": "soy"},
        "transform": [{"filter": "datum.panel == 'j'"}, {"calculate": "indexof(['Stem','Leaf','Husk','Petiole','Grain','Pod','Cob','Seed'], datum.part)", "as": "ord"}, {"stack": "value", "groupby": ["treatment"], "sort": [{"field": "ord", "order": "ascending"}], "as": ["y0", "y1"]}, {"calculate": "(datum.y0 + datum.y1) / 2", "as": "mid"}, {"calculate": "datum.y1 - datum.sd", "as": "lo"}, {"calculate": "datum.y1 + datum.sd", "as": "hi"}, {"calculate": "datum.part == 'Pod' ? datum.mid + 1 : (datum.part == 'Petiole' ? datum.mid - 1 : datum.mid)", "as": "ly"}],
        "encoding": {"x": {"field": "treatment", "type": "nominal", "sort": ["CK", "CF+CM", "CF+CRB", "CF+CRA", "CF"], "scale": {"paddingInner": 0.3, "paddingOuter": 0.15}, "axis": {"title": "R6 Stage"}}},
        "layer": [
         {"mark": {"type": "bar", "stroke": "#8c8c8c", "strokeWidth": 0.8}, "encoding": {"y": {"field": "y0", "type": "quantitative", "title": "(j)", "scale": {"domain": [0, 100], "nice": false}, "axis": {"values": [0, 25, 50, 75, 100], "title": "(j)"}}, "y2": {"field": "y1"}, "color": {"field": "part", "type": "nominal", "scale": {"domain": ["Seed", "Pod", "Petiole", "Leaf", "Stem"], "range": ["#FDD6D6", "#F7BEA0", "#DB7A64", "#729FCF", "#DDDCEE"]}}}},
         {"mark": {"type": "rule", "color": "#777777", "strokeWidth": 0.7}, "encoding": {"y": {"field": "lo", "type": "quantitative", "title": "(j)"}, "y2": {"field": "hi"}}},
         {"mark": {"type": "tick", "color": "#777777", "thickness": 0.7, "size": 6}, "encoding": {"y": {"field": "lo", "type": "quantitative", "title": "(j)"}}},
         {"mark": {"type": "tick", "color": "#777777", "thickness": 0.7, "size": 6}, "encoding": {"y": {"field": "hi", "type": "quantitative", "title": "(j)"}}},
         {"mark": {"type": "rule", "color": "#666666", "strokeWidth": 0.7, "strokeDash": [1.5, 1.5], "x2Offset": 3}, "encoding": {"x": {"field": "treatment", "type": "nominal", "sort": ["CK", "CF+CM", "CF+CRB", "CF+CRA", "CF"], "bandPosition": 0.5}, "x2": {"field": "treatment", "bandPosition": 1}, "y": {"field": "mid", "type": "quantitative", "title": "(j)"}, "y2": {"field": "ly"}}},
         {"mark": {"type": "text", "align": "left", "baseline": "middle", "dx": 5, "fontSize": 11.5, "fontWeight": "bold"}, "encoding": {"x": {"field": "treatment", "type": "nominal", "sort": ["CK", "CF+CM", "CF+CRB", "CF+CRA", "CF"], "bandPosition": 1}, "y": {"field": "ly", "type": "quantitative", "title": "(j)"}, "text": {"field": "letter"}}}
        ]
       },
       {"width": 203, "height": 162,
        "data": {"name": "soy"},
        "transform": [{"filter": "datum.panel == 'k'"}, {"calculate": "indexof(['Stem','Leaf','Husk','Petiole','Grain','Pod','Cob','Seed'], datum.part)", "as": "ord"}, {"stack": "value", "groupby": ["treatment"], "sort": [{"field": "ord", "order": "ascending"}], "as": ["y0", "y1"]}, {"calculate": "(datum.y0 + datum.y1) / 2", "as": "mid"}, {"calculate": "datum.y1 - datum.sd", "as": "lo"}, {"calculate": "datum.y1 + datum.sd", "as": "hi"}, {"calculate": "datum.part == 'Pod' ? datum.y1 + 3.5 : (datum.part == 'Stem' ? datum.y0 + 1 : datum.mid)", "as": "ly"}],
        "encoding": {"x": {"field": "treatment", "type": "nominal", "sort": ["CK", "CF+CM", "CF+CRB", "CF+CRA", "CF"], "scale": {"paddingInner": 0.3, "paddingOuter": 0.15}, "axis": {"title": "R8 Stage"}}},
        "layer": [
         {"mark": {"type": "bar", "stroke": "#8c8c8c", "strokeWidth": 0.8}, "encoding": {"y": {"field": "y0", "type": "quantitative", "title": "(k)", "scale": {"domain": [0, 100], "nice": false}, "axis": {"values": [0, 25, 50, 75, 100], "title": "(k)"}}, "y2": {"field": "y1"}, "color": {"field": "part", "type": "nominal", "scale": {"domain": ["Seed", "Pod", "Petiole", "Leaf", "Stem"], "range": ["#FDD6D6", "#F7BEA0", "#DB7A64", "#729FCF", "#DDDCEE"]}}}},
         {"mark": {"type": "rule", "color": "#777777", "strokeWidth": 0.7}, "encoding": {"y": {"field": "lo", "type": "quantitative", "title": "(k)"}, "y2": {"field": "hi"}}},
         {"mark": {"type": "tick", "color": "#777777", "thickness": 0.7, "size": 6}, "encoding": {"y": {"field": "lo", "type": "quantitative", "title": "(k)"}}},
         {"mark": {"type": "tick", "color": "#777777", "thickness": 0.7, "size": 6}, "encoding": {"y": {"field": "hi", "type": "quantitative", "title": "(k)"}}},
         {"mark": {"type": "rule", "color": "#666666", "strokeWidth": 0.7, "strokeDash": [1.5, 1.5], "x2Offset": 3}, "encoding": {"x": {"field": "treatment", "type": "nominal", "sort": ["CK", "CF+CM", "CF+CRB", "CF+CRA", "CF"], "bandPosition": 0.5}, "x2": {"field": "treatment", "bandPosition": 1}, "y": {"field": "mid", "type": "quantitative", "title": "(k)"}, "y2": {"field": "ly"}}},
         {"mark": {"type": "text", "align": "left", "baseline": "middle", "dx": 5, "fontSize": 11.5, "fontWeight": "bold"}, "encoding": {"x": {"field": "treatment", "type": "nominal", "sort": ["CK", "CF+CM", "CF+CRB", "CF+CRA", "CF"], "bandPosition": 1}, "y": {"field": "ly", "type": "quantitative", "title": "(k)"}, "text": {"field": "letter"}}}
        ]
       }
      ]
     }
    ]
   }
  ]
 }
]
}
